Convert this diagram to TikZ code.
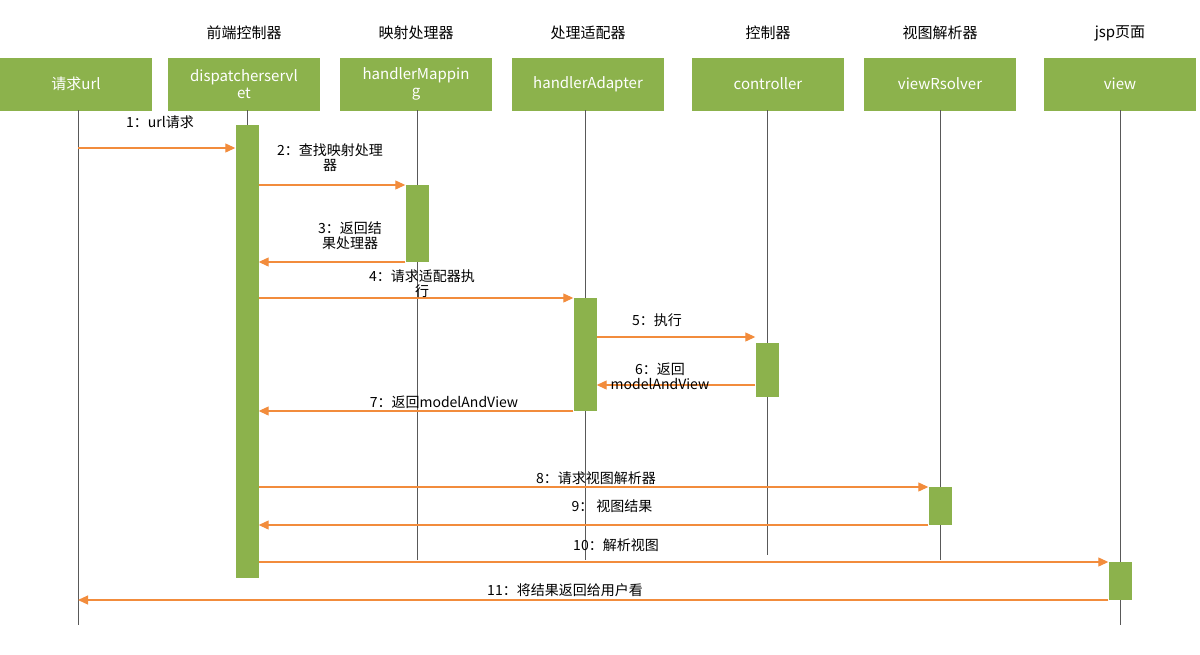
\documentclass[tikz,border=0pt]{standalone}
\usepackage{fontspec}
\setmainfont{Noto Sans CJK SC}
\usetikzlibrary{arrows.meta}
\definecolor{grn}{HTML}{8CB24C}
\definecolor{org}{HTML}{F28C3C}
\begin{document}
\begin{tikzpicture}[x=1pt,y=-1pt,
 hdr/.style={fill=grn,draw=none,text=white,minimum width=152pt,minimum height=53pt,align=center,font=\fontsize{15}{17}\selectfont,inner sep=1pt},
 ttl/.style={font=\fontsize{15}{17}\selectfont},
 life/.style={draw=gray!70!black,line width=0.8pt},
 bar/.style={fill=grn,draw=none,minimum width=23pt,inner sep=0pt},
 msg/.style={draw=org,line width=1.2pt,-{Triangle[length=10pt,width=9pt]}},
 lbl/.style={font=\fontsize{14}{15}\selectfont,align=center,fill=white,fill opacity=0,text opacity=1,inner sep=1pt}]
\useasboundingbox (0,0) rectangle (1200,654);
\foreach \n/\x/\t/\h in {a/76/{}/请求url, b/244/前端控制器/{dispatcherservl\\et}, c/416/映射处理器/{handlerMappin\\g}, d/588/处理适配器/handlerAdapter, e/768/控制器/controller, f/940/视图解析器/viewRsolver, g/1120/jsp页面/view}{
  \node[hdr] (h\n) at (\x,84) {\h};
  \node[ttl] (t\n) at (\x,33) {\t};
}
\coordinate (la) at (78,625); \coordinate (lb) at (247,578); \coordinate (lc) at (417,560);
\coordinate (ld) at (585,560); \coordinate (le) at (767,555); \coordinate (lf) at (940,560); \coordinate (lg) at (1120,625);
\draw[life] (78,110) -- (la);
\draw[life] (417,110) -- (lc);
\draw[life] (585,110) -- (ld);
\draw[life] (767,110) -- (le);
\draw[life] (940,110) -- (lf);
\draw[life] (1120,110) -- (lg);
\draw[life] (247,110) -- (lb);
\node[bar,minimum height=453pt] (bb) at (247,351.5) {};
\node[bar,minimum height=77pt] (bc) at (417,223.5) {};
\node[bar,minimum height=113pt] (bd) at (585,354.5) {};
\node[bar,minimum height=54pt] (be) at (767,370) {};
\node[bar,minimum height=38pt] (bf) at (940,506) {};
\node[bar,minimum height=38pt] (bg) at (1120,581) {};
\draw[msg] (78,148) -- (bb.west|-0,148);
\draw[msg] (bb.east|-0,185) -- (bc.west|-0,185);
\draw[msg] (bc.west|-0,262) -- (bb.east|-0,262);
\draw[msg] (bb.east|-0,298) -- (bd.west|-0,298);
\draw[msg] (bd.east|-0,337) -- (be.west|-0,337);
\draw[msg] (be.west|-0,385) -- (bd.east|-0,385);
\draw[msg] (bd.west|-0,411) -- (bb.east|-0,411);
\draw[msg] (bb.east|-0,487) -- (bf.west|-0,487);
\draw[msg] (bf.west|-0,525) -- (bb.east|-0,525);
\draw[msg] (bb.east|-0,562) -- (bg.west|-0,562);
\draw[msg] (bg.west|-0,600) -- (78,600);
\node[lbl] (m1) at (160,122) {1：url请求};
\node[lbl] (m2) at (330,158) {2：查找映射处理\\器};
\node[lbl] (m3) at (350,236) {3：返回结\\果处理器};
\node[lbl] (m4) at (422,284) {4：请求适配器执\\行};
\node[lbl] (m5) at (657,320) {5：执行};
\node[lbl] (m6) at (660,376) {6：返回\\modelAndView};
\node[lbl] (m7) at (444,402) {7：返回modelAndView};
\node[lbl] (m8) at (596,478) {8：请求视图解析器};
\node[lbl] (m9) at (612,506) {9： 视图结果};
\node[lbl] (m10) at (616,545) {10：解析视图};
\node[lbl] (m11) at (565,590) {11：将结果返回给用户看};
\end{tikzpicture}
\end{document}
